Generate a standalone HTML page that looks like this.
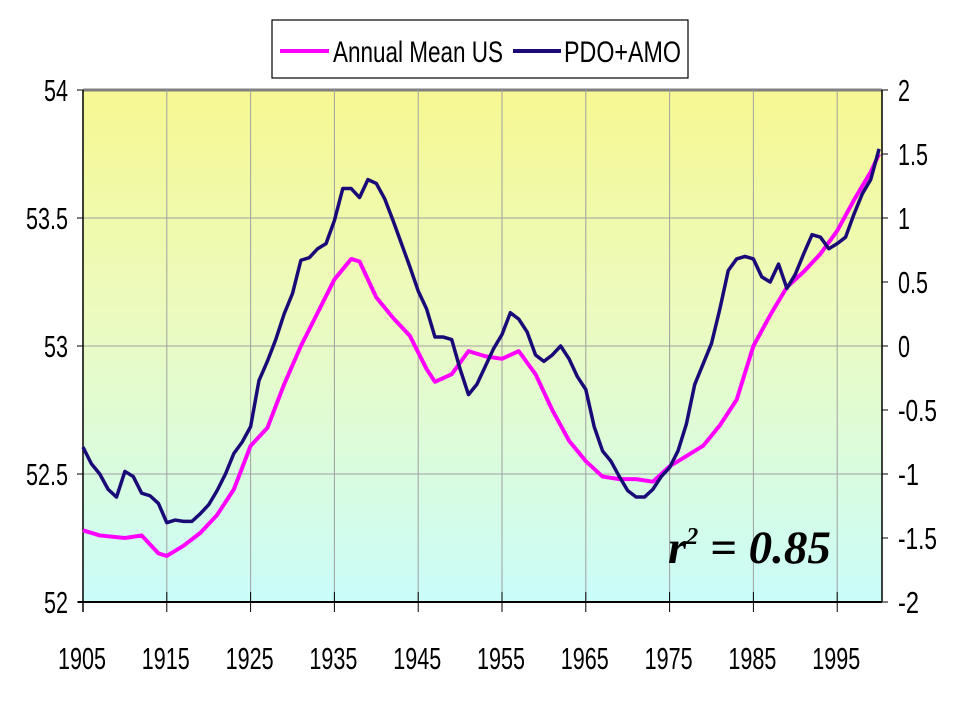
<!DOCTYPE html>
<html><head><meta charset="utf-8"><style>
html,body{margin:0;padding:0;background:#fff;width:960px;height:720px;overflow:hidden}
text{font-family:"Liberation Sans",sans-serif}
.tk{font-size:31px}
</style></head><body>
<svg id="c" width="960" height="720">
<defs><linearGradient id="bg" x1="0" y1="0" x2="0" y2="1">
<stop offset="0" stop-color="#f7f892"/><stop offset="0.45" stop-color="#ebfbc0"/><stop offset="1" stop-color="#cafcfa"/></linearGradient></defs>
<rect x="83" y="90" width="799" height="512" fill="url(#bg)"/>
<g id="grid"></g><g id="axes"></g><g id="series"></g>
<g>
<rect x="272" y="20" width="416" height="58" fill="#fff" stroke="#000" stroke-width="1.2"/>
<line x1="280" y1="51" x2="329" y2="51" stroke="#ff00ff" stroke-width="4"/>
<text x="333" y="62" font-size="30" textLength="170" lengthAdjust="spacingAndGlyphs">Annual Mean US</text>
<line x1="513" y1="51" x2="561" y2="51" stroke="#1a0a78" stroke-width="4"/>
<text x="564" y="62" font-size="30" textLength="117" lengthAdjust="spacingAndGlyphs">PDO+AMO</text>
</g>
<text x="668" y="563" font-style="italic" font-weight="bold" font-size="47" style="font-family:'Liberation Serif',serif">r<tspan dy="-19" font-size="24">2</tspan><tspan dy="19"> = 0.85</tspan></text>
</svg>
<script>
const years=[];for(let y=1905;y<=2000;y++)years.push(y);
const leftTicks=[52,52.5,53,53.5,54];
const rightTicks=[-2,-1.5,-1,-0.5,0,0.5,1,1.5,2];
const xLabels=[1905,1915,1925,1935,1945,1955,1965,1975,1985,1995];
const annualYears=[1905,1907,1910,1912,1914,1915,1917,1919,1921,1923,1925,1927,1929,1931,1933,1935,1937,1938,1940,1942,1944,1946,1947,1949,1951,1953,1955,1957,1959,1961,1963,1965,1967,1969,1971,1973,1975,1977,1979,1981,1983,1985,1987,1989,1991,1993,1995,1997,1999,2000];
const annualMean=[52.28,52.26,52.25,52.26,52.19,52.18,52.22,52.27,52.34,52.44,52.61,52.68,52.85,53.0,53.13,53.26,53.34,53.33,53.19,53.11,53.04,52.91,52.86,52.89,52.98,52.96,52.95,52.98,52.89,52.75,52.63,52.55,52.49,52.48,52.48,52.47,52.53,52.57,52.61,52.69,52.79,53.0,53.12,53.23,53.29,53.36,53.45,53.57,53.68,53.75];
const pdoAmo=[-0.79,-0.92,-1.0,-1.12,-1.18,-0.98,-1.02,-1.15,-1.17,-1.23,-1.38,-1.36,-1.37,-1.37,-1.31,-1.24,-1.13,-1.0,-0.84,-0.75,-0.63,-0.27,-0.12,0.05,0.25,0.41,0.67,0.69,0.76,0.8,0.98,1.23,1.23,1.16,1.3,1.27,1.15,0.98,0.8,0.62,0.43,0.29,0.07,0.07,0.05,-0.18,-0.38,-0.3,-0.16,-0.02,0.09,0.26,0.21,0.11,-0.07,-0.12,-0.07,0,-0.1,-0.24,-0.34,-0.63,-0.82,-0.9,-1.02,-1.13,-1.18,-1.18,-1.12,-1.02,-0.95,-0.82,-0.61,-0.3,-0.14,0.02,0.29,0.59,0.68,0.7,0.68,0.54,0.5,0.64,0.45,0.56,0.72,0.87,0.85,0.76,0.8,0.85,1.03,1.19,1.3,1.54];
const X0=83,X1=882,Y0=602,Y1=90;
const xs=y=>X0+(y-1905)*8.38;
const yL=v=>Y0-(v-52)/2*(Y0-Y1);
const yR=v=>Y0-(v+2)/4*(Y0-Y1);
const NS='http://www.w3.org/2000/svg';
function mk(tag,attrs,parent){const e=document.createElementNS(NS,tag);for(const k in attrs)e.setAttribute(k,attrs[k]);document.getElementById(parent).appendChild(e);return e;}
function tw(s){let w=0;for(const ch of s){w+=(ch==='.')?6:(ch==='-')?9:12;}return w;}
leftTicks.forEach(t=>{if(t===52)return;const e=mk('line',{x1:X0,x2:X1,y1:yL(t),y2:yL(t),stroke:t===54?'#808080':'#a0a0a0','stroke-width':t===54?3:1},'grid');

});
xLabels.forEach(t=>{if(t===1905)return;const e=mk('line',{x1:xs(t),x2:xs(t),y1:Y1,y2:Y0,stroke:'#a0a0a0','stroke-width':1},'grid');

});
let a=mk('line',{x1:X0,x2:X0,y1:Y1,y2:Y0+10,stroke:'#000','stroke-width':1.5},'axes');


a=mk('line',{x1:X1,x2:X1,y1:Y1,y2:Y0,stroke:'#000','stroke-width':1.5},'axes');


a=mk('line',{x1:X0-5,x2:X1,y1:Y0,y2:Y0,stroke:'#000','stroke-width':2},'axes');


leftTicks.forEach(t=>{mk('line',{x1:X0-6,x2:X0,y1:yL(t),y2:yL(t),stroke:'#000'},'axes');
const s=String(t);
const e=mk('text',{x:X0-15-tw(s),y:yL(t)+11,class:'tk',textLength:tw(s),lengthAdjust:'spacingAndGlyphs'},'axes');e.textContent=s;

});
rightTicks.forEach(t=>{mk('line',{x1:X1,x2:X1+6,y1:yR(t),y2:yR(t),stroke:'#000'},'axes');
const s=String(t);
const e=mk('text',{x:X1+16,y:yR(t)+11,class:'tk',textLength:tw(s),lengthAdjust:'spacingAndGlyphs'},'axes');e.textContent=s;

});
xLabels.forEach(t=>{mk('line',{x1:xs(t),x2:xs(t),y1:Y0-10,y2:Y0+10,stroke:'#000'},'axes');
const s=String(t);
const e=mk('text',{x:xs(t)-25,y:Y0+67,class:'tk',textLength:48,lengthAdjust:'spacingAndGlyphs'},'axes');e.textContent=s;

});
let p=mk('polyline',{points:annualYears.map((y,i)=>xs(y)+','+yL(annualMean[i])).join(' '),fill:'none',stroke:'#ff00ff','stroke-width':4,'stroke-linejoin':'round'},'series');


p=mk('polyline',{points:years.map((y,i)=>xs(y)+','+yR(pdoAmo[i])).join(' '),fill:'none',stroke:'#1a0a78','stroke-width':3.5,'stroke-linejoin':'round'},'series');


</script>
</body></html>
